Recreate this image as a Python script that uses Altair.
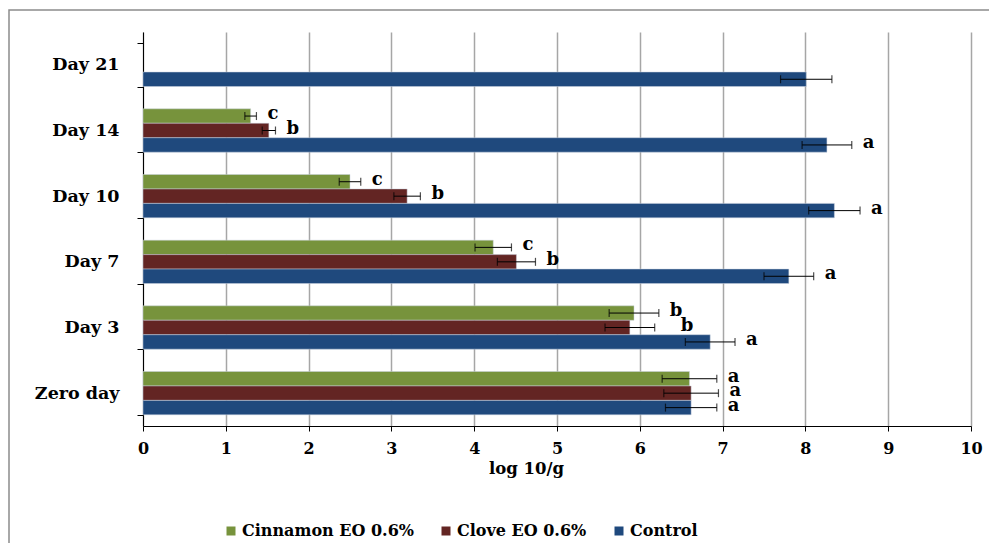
import altair as alt
import pandas as pd

days = ["Day 21", "Day 14", "Day 10", "Day 7", "Day 3", "Zero day"]
series = ["Cinnamon EO 0.6%", "Clove EO 0.6%", "Control"]
colors = ["#77933C", "#632523", "#1F497D"]

cinnamon = [None, 1.30, 2.50, 4.23, 5.93, 6.60]
clove = [None, 1.52, 3.19, 4.51, 5.88, 6.62]
control = [8.01, 8.26, 8.35, 7.80, 6.85, 6.62]

cinnamon_err = [None, 0.07, 0.13, 0.22, 0.30, 0.33]
clove_err = [None, 0.08, 0.16, 0.23, 0.30, 0.33]
control_err = [0.31, 0.30, 0.31, 0.30, 0.30, 0.31]

cinnamon_sig = ["", "c", "c", "c", "b", "a"]
clove_sig = ["", "b", "b", "b", "b", "a"]
control_sig = ["", "a", "a", "a", "a", "a"]

rows = []
for name, vals, errs, sigs in [
    (series[0], cinnamon, cinnamon_err, cinnamon_sig),
    (series[1], clove, clove_err, clove_sig),
    (series[2], control, control_err, control_sig),
]:
    for d, v, e, s in zip(days, vals, errs, sigs):
        if v is None:
            continue
        rows.append({"day": d, "series": name, "value": v,
                     "lo": v - e, "hi": v + e, "sig": s})
df = pd.DataFrame(rows)

FONT = "DejaVu Serif"

y_enc = alt.Y(
    "day:N", sort=days,
    scale=alt.Scale(paddingInner=0.34, paddingOuter=0.17),
    axis=alt.Axis(
        title=None, domainColor="black", domainWidth=1, tickColor="black",
        tickSize=6, tickBand="extent", grid=False, labelFont=FONT,
        labelFontWeight="bold", labelFontSize=17.5, labelColor="black",
        labelPadding=18,
    ),
)
yoff_enc = alt.YOffset("series:N", sort=series, scale=alt.Scale(domain=series))

base = alt.Chart(df)

bars = base.mark_bar(stroke="#c9d3e0", strokeWidth=0.7, strokeOpacity=0.7).encode(
    x=alt.X(
        "value:Q", scale=alt.Scale(domain=[0, 10]),
        axis=alt.Axis(
            values=list(range(11)), format="d", grid=True, gridColor="#a6a6a6",
            gridWidth=1.5, domainColor="black", domainWidth=1, tickColor="black",
            tickSize=5, labelFont=FONT, labelFontWeight="bold", labelFontSize=16,
            labelColor="black", labelPadding=9, labelFlush=False,
            title="log 10/g", titleFont=FONT,
            titleFontWeight="bold", titleFontSize=16.5, titleColor="black",
            titleX=383, titleY=47, titleBaseline="alphabetic",
        ),
    ),
    y=y_enc,
    yOffset=yoff_enc,
    color=alt.Color(
        "series:N", sort=series,
        scale=alt.Scale(domain=series, range=colors),
        legend=alt.Legend(
            title=None, orient="none", legendX=80, legendY=491,
            direction="horizontal", symbolType="square", symbolSize=81,
            symbolStrokeWidth=0, labelFont=FONT, labelFontWeight="bold",
            labelFontSize=16, labelColor="black", labelLimit=300,
            columnPadding=24, labelOffset=3,
        ),
    ),
)

err_line = base.mark_rule(color="black", strokeWidth=1).encode(
    x="lo:Q", x2="hi:Q", y=y_enc, yOffset=yoff_enc
)
cap_lo = base.mark_tick(color="black", thickness=1.2, size=8).encode(
    x="lo:Q", y=y_enc, yOffset=yoff_enc
)
cap_hi = base.mark_tick(color="black", thickness=1.2, size=8).encode(
    x="hi:Q", y=y_enc, yOffset=yoff_enc
)

text_style = dict(align="left", baseline="alphabetic", dy=3, font=FONT,
                  fontWeight="bold", fontSize=18, color="black")
nudged = (alt.datum.day == "Day 3") & (alt.datum.series == series[1])
labels = base.transform_filter(~nudged).mark_text(dx=11, **text_style).encode(
    x="hi:Q", y=y_enc, yOffset=yoff_enc, text="sig:N"
)
labels_nudged = base.transform_filter(nudged).mark_text(dx=26, **text_style).encode(
    x="hi:Q", y=y_enc, yOffset=yoff_enc, text="sig:N"
)

frame = alt.Chart(pd.DataFrame({"k": [0]})).mark_rect(
    fillOpacity=0, stroke="#8c8c8c", strokeWidth=1.5
).encode(
    x=alt.value(-134), x2=alt.value(900), y=alt.value(-22), y2=alt.value(700)
)

chart = alt.layer(frame, bars, err_line, cap_lo, cap_hi, labels, labels_nudged).properties(
    width=828, height=394,
    padding={"left": 135, "top": 24, "right": 18, "bottom": 117},
    autosize=alt.AutoSizeParams(type="none"),
    background="white",
).configure_view(stroke=None)

chart.save("out.html", embed_options={"renderer": "svg", "actions": False})
